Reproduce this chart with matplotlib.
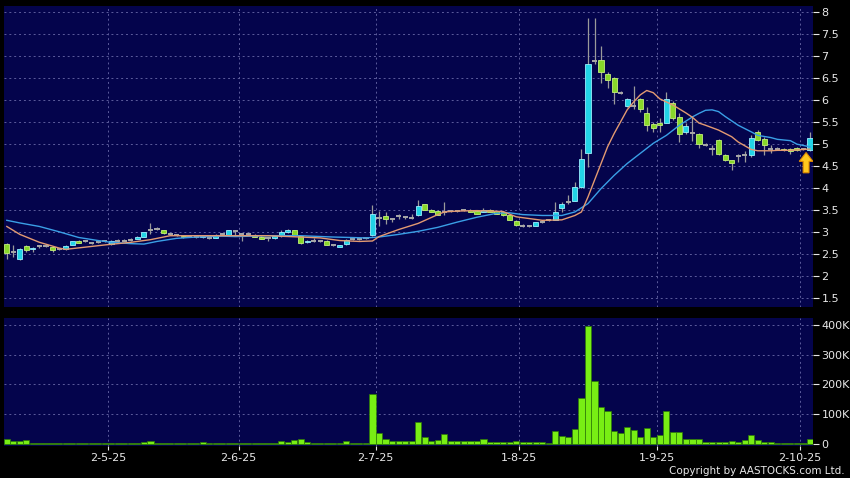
import matplotlib
matplotlib.use("Agg")
import matplotlib.pyplot as plt
import numpy as np

plt.rcParams['font.family'] = ['Liberation Sans Narrow', 'DejaVu Sans Condensed', 'DejaVu Sans']

# --------------------------------------------------
# Data (daily OHLC, volume in thousands)
# --------------------------------------------------
opens = [2.73, 2.53, 2.38, 2.67, 2.60, 2.67, 2.67, 2.66, 2.61, 2.60,
         2.70, 2.80, 2.78, 2.74, 2.76, 2.78, 2.72, 2.78, 2.80, 2.82,
         2.84, 2.89, 3.03, 3.06, 3.04, 2.95, 2.93, 2.91, 2.89, 2.88,
         2.87, 2.86, 2.86, 2.95, 2.93, 3.01, 2.95, 2.95, 2.93, 2.89,
         2.85, 2.85, 2.90, 2.99, 3.04, 2.90, 2.76, 2.80, 2.78, 2.80,
         2.71, 2.66, 2.72, 2.84, 2.84, 2.86, 2.93, 3.31, 3.35, 3.28,
         3.35, 3.33, 3.32, 3.37, 3.62, 3.50, 3.47, 3.45, 3.48, 3.47,
         3.50, 3.50, 3.47, 3.45, 3.50, 3.47, 3.45, 3.37, 3.25, 3.14,
         3.13, 3.14, 3.22, 3.26, 3.27, 3.55, 3.67, 3.71, 4.02, 4.78,
         6.87, 6.91, 6.59, 6.49, 6.16, 5.86, 5.86, 6.01, 5.70, 5.45,
         5.48, 5.48, 5.93, 5.61, 5.27, 5.25, 5.23, 4.98, 4.89, 5.08,
         4.74, 4.63, 4.72, 4.74, 4.74, 5.27, 5.10, 4.89, 4.89, 4.89,
         4.89, 4.91, 4.89, 4.85]
highs = [2.74, 2.71, 2.62, 2.70, 2.65, 2.70, 2.71, 2.67, 2.63, 2.69,
         2.80, 2.81, 2.80, 2.76, 2.79, 2.80, 2.81, 2.84, 2.83, 2.85,
         2.90, 3.00, 3.20, 3.10, 3.05, 2.97, 2.95, 2.92, 2.91, 2.90,
         2.91, 2.88, 2.94, 2.97, 3.05, 3.04, 2.97, 2.97, 2.94, 2.90,
         2.87, 2.92, 3.03, 3.07, 3.05, 2.91, 2.81, 2.85, 2.80, 2.81,
         2.73, 2.71, 2.83, 2.89, 2.86, 2.88, 3.61, 3.47, 3.45, 3.32,
         3.40, 3.36, 3.40, 3.73, 3.64, 3.52, 3.50, 3.67, 3.50, 3.50,
         3.52, 3.51, 3.48, 3.55, 3.51, 3.48, 3.46, 3.38, 3.26, 3.17,
         3.15, 3.23, 3.26, 3.28, 3.67, 3.67, 3.83, 4.13, 4.89, 7.86,
         7.86, 7.21, 6.64, 6.52, 6.20, 6.05, 6.31, 6.05, 5.83, 5.50,
         5.58, 6.17, 5.97, 5.69, 5.46, 5.63, 5.25, 5.01, 4.97, 5.10,
         4.76, 4.64, 4.76, 4.84, 5.19, 5.31, 5.16, 4.97, 4.93, 4.91,
         4.91, 4.93, 4.91, 5.26]
lows = [2.38, 2.42, 2.36, 2.55, 2.55, 2.64, 2.65, 2.53, 2.59, 2.59,
        2.69, 2.74, 2.76, 2.72, 2.74, 2.76, 2.71, 2.75, 2.78, 2.80,
        2.83, 2.88, 2.95, 3.04, 2.96, 2.93, 2.91, 2.85, 2.87, 2.86,
        2.86, 2.84, 2.85, 2.93, 2.92, 2.93, 2.78, 2.93, 2.88, 2.83,
        2.79, 2.84, 2.89, 2.98, 2.92, 2.72, 2.74, 2.76, 2.76, 2.70,
        2.68, 2.65, 2.71, 2.82, 2.82, 2.84, 2.91, 3.14, 3.18, 3.23,
        3.28, 3.30, 3.28, 3.36, 3.50, 3.44, 3.37, 3.37, 3.45, 3.44,
        3.47, 3.44, 3.40, 3.44, 3.44, 3.40, 3.36, 3.26, 3.14, 3.10,
        3.11, 3.13, 3.20, 3.24, 3.26, 3.46, 3.62, 3.69, 4.00, 4.47,
        6.81, 6.39, 6.26, 5.90, 6.12, 5.83, 5.80, 5.73, 5.29, 5.27,
        5.27, 5.47, 5.55, 5.04, 5.23, 5.06, 4.91, 4.95, 4.74, 4.74,
        4.60, 4.41, 4.59, 4.59, 4.70, 5.06, 4.74, 4.80, 4.85, 4.83,
        4.76, 4.84, 4.86, 4.84]
closes = [2.52, 2.53, 2.60, 2.59, 2.63, 2.67, 2.67, 2.59, 2.61, 2.68,
          2.79, 2.75, 2.78, 2.74, 2.76, 2.78, 2.80, 2.78, 2.80, 2.82,
          2.89, 2.99, 3.03, 3.06, 2.97, 2.95, 2.93, 2.87, 2.89, 2.88,
          2.90, 2.86, 2.93, 2.95, 3.04, 3.01, 2.95, 2.95, 2.89, 2.84,
          2.85, 2.91, 2.99, 3.04, 2.93, 2.74, 2.80, 2.80, 2.78, 2.71,
          2.71, 2.70, 2.82, 2.84, 2.84, 2.86, 3.41, 3.31, 3.30, 3.28,
          3.35, 3.33, 3.32, 3.58, 3.50, 3.45, 3.39, 3.45, 3.48, 3.47,
          3.50, 3.45, 3.41, 3.50, 3.45, 3.41, 3.37, 3.27, 3.15, 3.14,
          3.13, 3.22, 3.22, 3.26, 3.46, 3.62, 3.67, 4.02, 4.66, 6.81,
          6.87, 6.62, 6.45, 6.18, 6.16, 6.01, 5.86, 5.78, 5.42, 5.36,
          5.42, 6.01, 5.58, 5.23, 5.40, 5.25, 4.99, 4.98, 4.89, 4.76,
          4.63, 4.57, 4.72, 4.74, 5.14, 5.08, 4.97, 4.89, 4.89, 4.86,
          4.84, 4.85, 4.89, 5.12]
volume_k = [17, 10, 10, 13, 5, 5, 3, 3, 2, 2,
            5, 2, 2, 2, 2, 2, 2, 2, 2, 2,
            3, 7, 10, 3, 5, 3, 3, 3, 3, 3,
            7, 3, 5, 2, 5, 2, 2, 3, 5, 5,
            3, 3, 10, 8, 13, 17, 8, 5, 3, 5,
            5, 5, 10, 5, 3, 3, 168, 36, 17, 10,
            10, 10, 10, 73, 25, 10, 13, 34, 10, 10,
            10, 10, 10, 17, 7, 7, 7, 8, 10, 8,
            8, 8, 8, 5, 44, 27, 25, 49, 154, 397,
            212, 126, 112, 44, 38, 56, 47, 25, 53, 25,
            29, 111, 42, 42, 18, 17, 17, 8, 7, 7,
            7, 11, 8, 13, 30, 13, 8, 7, 4, 4,
            4, 4, 4, 16]

# moving averages (day index, value)
ma10_idx = [0, 2, 5, 8, 9, 12, 15, 19, 22, 25, 30, 35, 40, 45, 48, 51, 54, 56,
            57, 60, 63, 66, 67, 69, 72, 76, 78, 80, 82, 85, 87, 88, 89, 90, 91,
            92, 93, 94, 95, 96, 97, 98, 99, 100, 102, 104, 105, 106, 107, 109,
            111, 112, 114, 115, 117, 118, 120, 123]
ma10_val = [3.12, 2.94, 2.76, 2.63, 2.60, 2.65, 2.70, 2.76, 2.82, 2.91, 2.91,
            2.91, 2.91, 2.88, 2.86, 2.80, 2.78, 2.79, 2.89, 3.05, 3.19, 3.39,
            3.45, 3.47, 3.48, 3.46, 3.34, 3.30, 3.26, 3.27, 3.37, 3.45, 3.79,
            4.17, 4.55, 4.93, 5.23, 5.50, 5.77, 5.95, 6.11, 6.21, 6.16, 6.02,
            5.88, 5.70, 5.60, 5.47, 5.42, 5.31, 5.16, 5.04, 4.87, 4.84, 4.84,
            4.85, 4.85, 4.88]
ma20_idx = [0, 2, 5, 8, 11, 14, 16, 19, 21, 23, 26, 29, 33, 35, 40, 45, 50, 55,
            57, 60, 63, 66, 69, 72, 75, 77, 79, 82, 85, 87, 89, 91, 93, 95, 97,
            99, 101, 103, 105, 106, 107, 108, 109, 110, 111, 112, 114, 115,
            117, 118, 120, 121, 123]
ma20_val = [3.26, 3.20, 3.12, 3.00, 2.87, 2.80, 2.76, 2.73, 2.72, 2.78, 2.85,
            2.88, 2.90, 2.89, 2.91, 2.91, 2.88, 2.86, 2.88, 2.94, 3.01, 3.10,
            3.22, 3.33, 3.42, 3.43, 3.39, 3.37, 3.37, 3.45, 3.64, 3.98, 4.28,
            4.55, 4.78, 5.01, 5.19, 5.42, 5.61, 5.69, 5.76, 5.77, 5.73, 5.62,
            5.52, 5.42, 5.27, 5.19, 5.14, 5.10, 5.07, 4.99, 4.93]

date_labels = ['2-5-25', '2-6-25', '2-7-25', '1-8-25', '1-9-25', '2-10-25']
date_idx = [16, 36, 57, 79, 100, 122]

# --------------------------------------------------
# Styling
# --------------------------------------------------
BG = '#04044c'
GRID = '#5c5c9c'
UP_FC, UP_EC = '#22d4e6', '#9af0ff'
DN_FC, DN_EC = '#88d82a', '#c4f07a'
FLAT = '#a8a8a8'
WICK = '#9a9a9a'
TXT = '#e8e8e8'

fig = plt.figure(figsize=(8.5, 4.78), dpi=100, facecolor='black')
ax = fig.add_axes([4/850, 171/478, 809/850, 301/478])
axv = fig.add_axes([4/850, 32/478, 809/850, 128/478])

o = np.array(opens)
h = np.array(highs)
l = np.array(lows)
c = np.array(closes)
x = np.arange(len(o))
w = 0.78

up = c > o
dn = c < o
flat = c == o

# wicks
ax.vlines(x, l, h, color=WICK, lw=0.9, zorder=2)
# bodies
ax.bar(x[up], (c - o)[up], bottom=o[up], width=w, color=UP_FC,
       edgecolor=UP_EC, linewidth=0.6, zorder=3)
ax.bar(x[dn], (o - c)[dn], bottom=c[dn], width=w, color=DN_FC,
       edgecolor=DN_EC, linewidth=0.6, zorder=3)
ax.hlines(c[flat], x[flat] - w/2, x[flat] + w/2, color=FLAT, lw=1.4, zorder=3)

# moving averages
ax.plot(ma20_idx, ma20_val, color='#3a9fe6', lw=1.0, zorder=4)
ax.plot(ma10_idx, ma10_val, color='#e39a72', lw=1.0, zorder=4)

# current price marker
tip = l[-1] - 0.04
ax.arrow(x[-1] - 0.6, tip - 0.46, 0, 0.46, width=0.9, head_width=2.1,
         head_length=0.2, length_includes_head=True, fc='#ffc81e',
         ec='#e08a00', lw=0.8, zorder=5)

# volume
axv.bar(x, volume_k, width=0.94, color='#78ee14', edgecolor='#2c7a06',
        linewidth=0.5, zorder=3)

# --------------------------------------------------
# Axes
# --------------------------------------------------
grid_x = [d - 0.5 for d in date_idx]
for a in (ax, axv):
    a.set_facecolor(BG)
    a.set_xlim(-0.43, 123.46)
    for s in a.spines.values():
        s.set_visible(False)
    for gx in grid_x:
        a.axvline(gx, color=GRID, lw=0.7, ls=(0, (2, 3)), zorder=1)
    a.yaxis.tick_right()
    a.tick_params(axis='y', colors=TXT, labelsize=8, length=4, width=0.8,
                  direction='out', pad=2)

price_ticks = np.arange(1.5, 8.01, 0.5)
ax.set_ylim(1.29, 8.13)
ax.set_yticks(price_ticks)
ax.set_yticklabels([f'{v:g}' for v in price_ticks])
for v in price_ticks:
    ax.axhline(v, color=GRID, lw=0.7, ls=(0, (2, 3)), zorder=1)
ax.set_xticks([])

vol_ticks = [0, 100, 200, 300, 400]
axv.set_ylim(-6.7, 423.5)
axv.set_yticks(vol_ticks)
axv.set_yticklabels(['0' if v == 0 else f'{v}K' for v in vol_ticks])
for v in vol_ticks[1:]:
    axv.axhline(v, color=GRID, lw=0.7, ls=(0, (2, 3)), zorder=1)
axv.set_xticks(grid_x)
axv.set_xticklabels(date_labels)
axv.tick_params(axis='x', colors=TXT, labelsize=8, length=3, width=0.8,
                direction='out', pad=2)

fig.text(845/850, 1 - 471/478, 'Copyright by AASTOCKS.com Ltd.', color=TXT,
         fontsize=7.5, ha='right', va='center')

fig.savefig('out.png', dpi=100, facecolor='black')
